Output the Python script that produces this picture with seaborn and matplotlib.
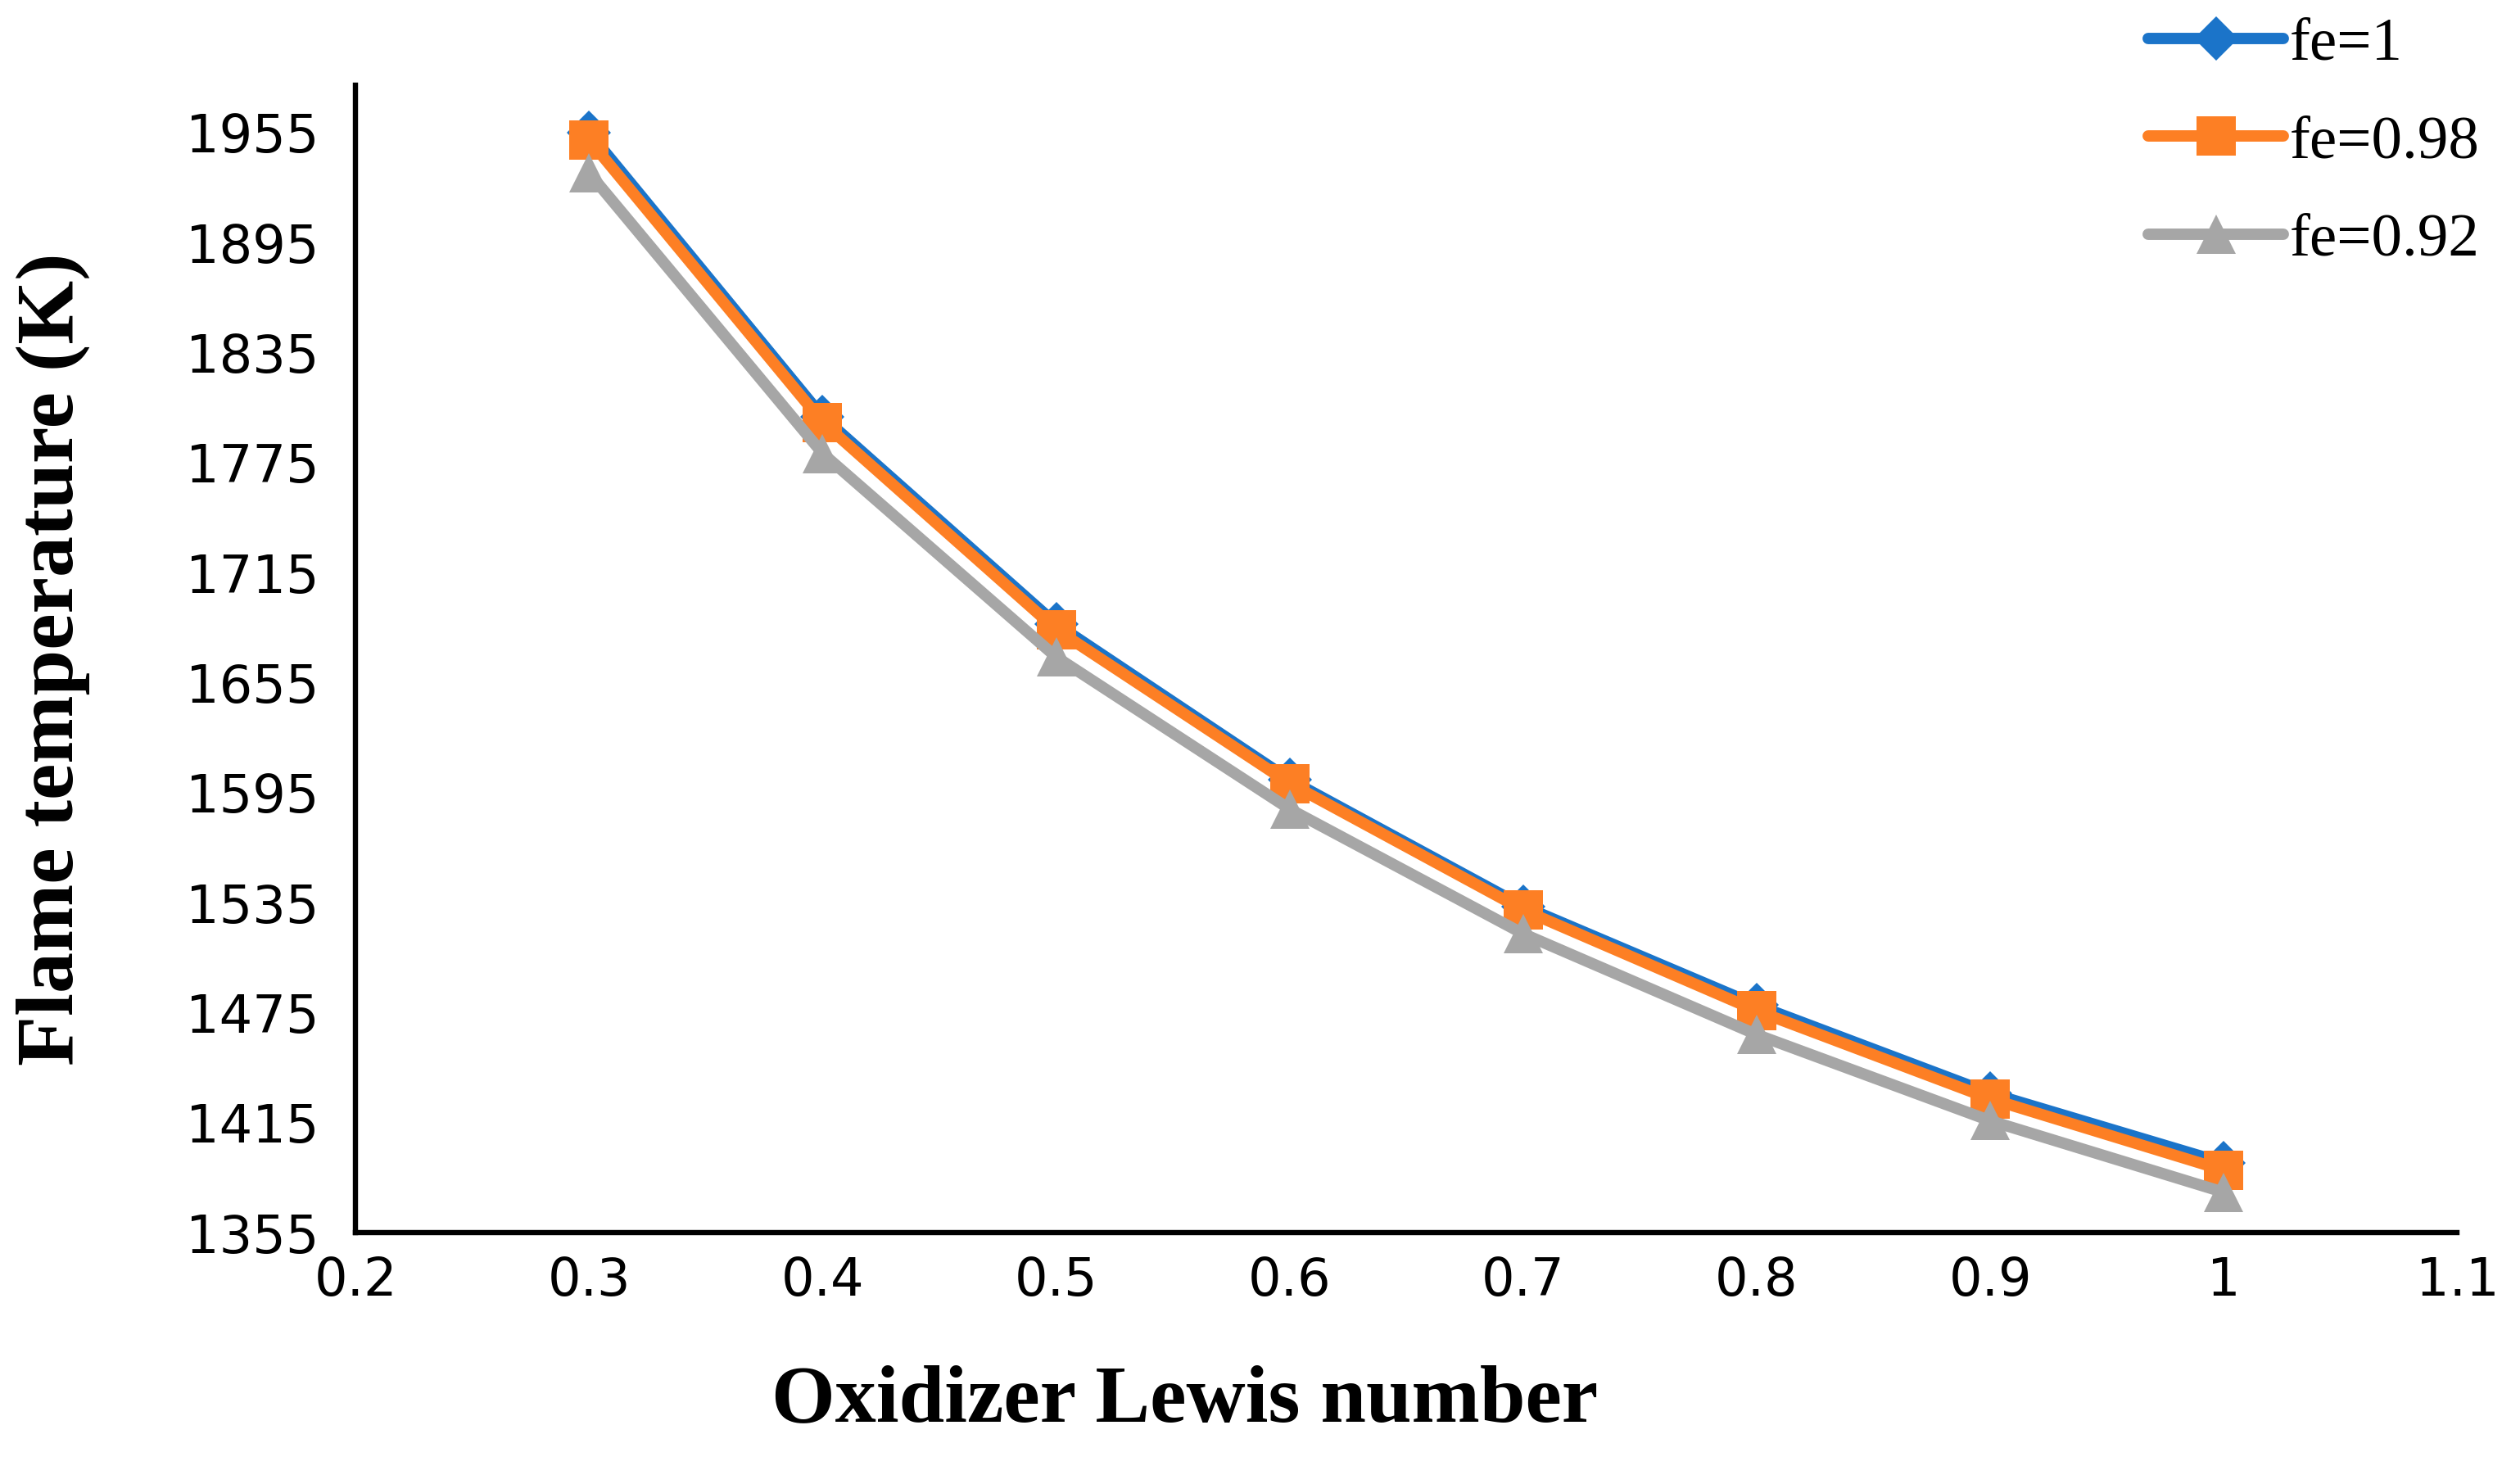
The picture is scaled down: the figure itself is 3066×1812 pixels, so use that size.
import numpy as np
import pandas as pd
import matplotlib.pyplot as plt
import seaborn as sns

# Valores
lewis = [0.3, 0.4, 0.5, 0.6, 0.7, 0.8, 0.9, 1.0]
temp_fe_1 = [1955, 1800, 1687, 1602, 1533, 1479, 1431, 1393]
temp_fe_098 = [1951, 1797, 1684, 1600, 1531, 1476, 1428, 1389]
temp_fe_092 = [1933, 1780, 1669, 1586, 1518, 1463, 1416, 1377]
series = ["fe=1", "fe=0.98", "fe=0.92"]
yticks = [1355, 1415, 1475, 1535, 1595, 1655, 1715, 1775, 1835, 1895, 1955]
xticks = [0.2, 0.3, 0.4, 0.5, 0.6, 0.7, 0.8, 0.9, 1.0, 1.1]

df = pd.DataFrame({
    "Le": lewis * 3,
    "T": temp_fe_1 + temp_fe_098 + temp_fe_092,
    "serie": [s for s in series for _ in lewis],
})

sns.set_style("white")
plt.rcParams['font.family'] = ['DejaVu Sans']
plt.rcParams['text.color'] = 'black'
plt.rcParams['xtick.color'] = 'black'
plt.rcParams['ytick.color'] = 'black'
plt.rcParams['axes.labelcolor'] = 'black'

cores = {"fe=1": "#1B74C9", "fe=0.98": "#FD7F24", "fe=0.92": "#A6A6A6"}
marcadores = {"fe=1": "D", "fe=0.98": "s", "fe=0.92": "^"}
tamanhos = {"fe=1": 14, "fe=0.98": 17, "fe=0.92": 17}

fig = plt.figure(figsize=(15.33, 9.06), dpi=200)
ax = fig.add_axes([0.1416, 0.1694, 0.837, 0.7734])

for s in series:
    sub = df[df["serie"] == s]
    sns.lineplot(data=sub, x="Le", y="T", ax=ax, color=cores[s], marker=marcadores[s],
                 markersize=tamanhos[s], markeredgewidth=0, linewidth=5, label=s,
                 solid_capstyle="round")

ax.set_xlim(0.2, 1.1)
ax.set_ylim(1355, 1981)
ax.set_xticks(xticks)
ax.set_xticklabels([("%g" % v) for v in xticks])
ax.set_yticks(yticks)
ax.tick_params(axis="x", labelsize=23, pad=10, length=0, labelcolor="black")
ax.tick_params(axis="y", labelsize=23, pad=16, length=0, labelcolor="black")

for lado in ["top", "right"]:
    ax.spines[lado].set_visible(False)
for lado in ["left", "bottom"]:
    ax.spines[lado].set_color("black")
    ax.spines[lado].set_linewidth(2.3)

ax.set_xlabel("Oxidizer Lewis number", fontsize=36, fontweight="bold",
              family="Liberation Serif", color="black")
ax.xaxis.set_label_coords(0.3945, -0.115)
ax.set_ylabel("Flame temperature (K)", fontsize=36, fontweight="bold",
              family="Liberation Serif", labelpad=42, color="black")

ax.get_legend().remove()
handles, labels = ax.get_legend_handles_labels()
fig.legend(handles, labels, loc="upper left", bbox_to_anchor=(0.8335, 1.026),
           frameon=False, prop={"family": "Liberation Serif", "size": 27},
           handlelength=2.2, handletextpad=0.1, labelspacing=0.68)

plt.savefig("out.png", dpi=200)
